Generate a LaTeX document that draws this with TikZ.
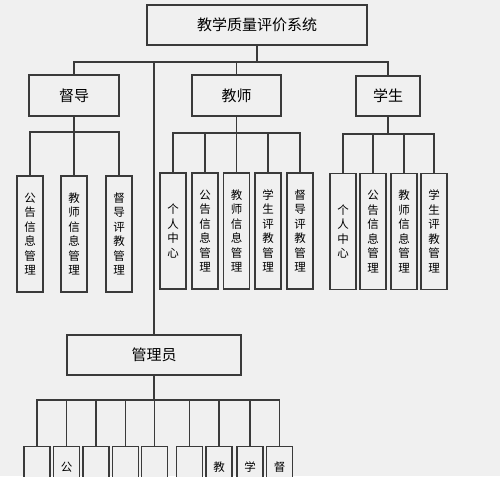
\documentclass[tikz,border=0pt]{standalone}
\usepackage{fontspec}
\newfontfamily\cjk{Noto Sans CJK SC}
\definecolor{bgc}{HTML}{F0F0F0}
\definecolor{linec}{HTML}{3A3A3A}
\begin{document}
\begin{tikzpicture}[x=1pt,y=-1pt,
  box/.style={draw=linec, line width=1.3pt, fill=bgc, inner sep=0pt},
  hbox/.style={box, minimum height=40, font={\cjk\fontsize{15}{18}\selectfont}},
  vbox/.style={box, minimum width=26, minimum height=116, align=center, font={\cjk\fontsize{11.5}{14.5}\selectfont}},
  obox/.style={box, minimum width=26, minimum height=116, anchor=north},
  ochar/.style={inner sep=0pt, font={\cjk\fontsize{11.5}{14.5}\selectfont}},
  conn/.style={draw=linec, line width=1.1pt}]
\fill[bgc] (0,0) rectangle (500,476);
\useasboundingbox (0,0) rectangle (500,476);
\clip (0,0) rectangle (500,476);

\coordinate (bus) at (0,62);
\coordinate (ddbus) at (0,132);
\coordinate (jsbus) at (0,133);
\coordinate (xsbus) at (0,134);
\coordinate (glbus) at (0,400);

% top level
\node[hbox, minimum width=220] (top) at (257,25) {教学质量评价系统};
\node[hbox, minimum width=90, minimum height=41] (dd) at (74,95.5) {督导};
\node[hbox, minimum width=89, minimum height=41] (js) at (236.5,95.5) {教师};
\node[hbox, minimum width=64] (xs) at (388,96) {学生};
\node[hbox, minimum width=174] (gl) at (154,355) {管理员};

% 督导 children
\node[vbox] (d1) at (30,234) {公\\告\\信\\息\\管\\理};
\node[vbox] (d2) at (74,234) {教\\师\\信\\息\\管\\理};
\node[vbox] (d3) at (119,234) {督\\导\\评\\教\\管\\理};

% 教师 children
\node[vbox] (j1) at (173,231) {个\\人\\中\\心};
\node[vbox] (j2) at (205,231) {公\\告\\信\\息\\管\\理};
\node[vbox] (j3) at (236.5,231) {教\\师\\信\\息\\管\\理};
\node[vbox] (j4) at (268,231) {学\\生\\评\\教\\管\\理};
\node[vbox] (j5) at (300,231) {督\\导\\评\\教\\管\\理};

% 学生 children
\node[vbox] (s1) at (343,231.5) {个\\人\\中\\心};
\node[vbox] (s2) at (373,231.5) {公\\告\\信\\息\\管\\理};
\node[vbox] (s3) at (404,231.5) {教\\师\\信\\息\\管\\理};
\node[vbox] (s4) at (434,231.5) {学\\生\\评\\教\\管\\理};

% 管理员 children (cut off by the bottom edge)
\node[obox] (g1) at (37,446) {};
\node[obox] (g2) at (66.5,446) {};
\node[obox] (g3) at (96,446) {};
\node[obox] (g4) at (125.5,446) {};
\node[obox] (g5) at (154.5,446) {};
\node[obox] (g6) at (189.5,446) {};
\node[obox] (g7) at (219,446) {};
\node[obox] (g8) at (250,446) {};
\node[obox] (g9) at (279.5,446) {};
\node[ochar] (c2) at ([yshift=-21.5pt]g2.north) {公};
\node[ochar] (c7) at ([yshift=-21.5pt]g7.north) {教};
\node[ochar] (c8) at ([yshift=-21.5pt]g8.north) {学};
\node[ochar] (c9) at ([yshift=-21.5pt]g9.north) {督};

% connectors
\foreach \c in {dd,js,xs,gl}
  \draw[conn] (top.south) -- (top.south |- bus) -| (\c.north);
\foreach \c in {d1,d2,d3}
  \draw[conn] (dd.south) -- (dd.south |- ddbus) -| (\c.north);
\foreach \c in {j1,j2,j3,j4,j5}
  \draw[conn] (js.south) -- (js.south |- jsbus) -| (\c.north);
\foreach \c in {s1,s2,s3,s4}
  \draw[conn] (xs.south) -- (xs.south |- xsbus) -| (\c.north);
\foreach \c in {g1,g2,g3,g4,g5,g6,g7,g8,g9}
  \draw[conn] (gl.south) -- (gl.south |- glbus) -| (\c.north);
\end{tikzpicture}
\end{document}
